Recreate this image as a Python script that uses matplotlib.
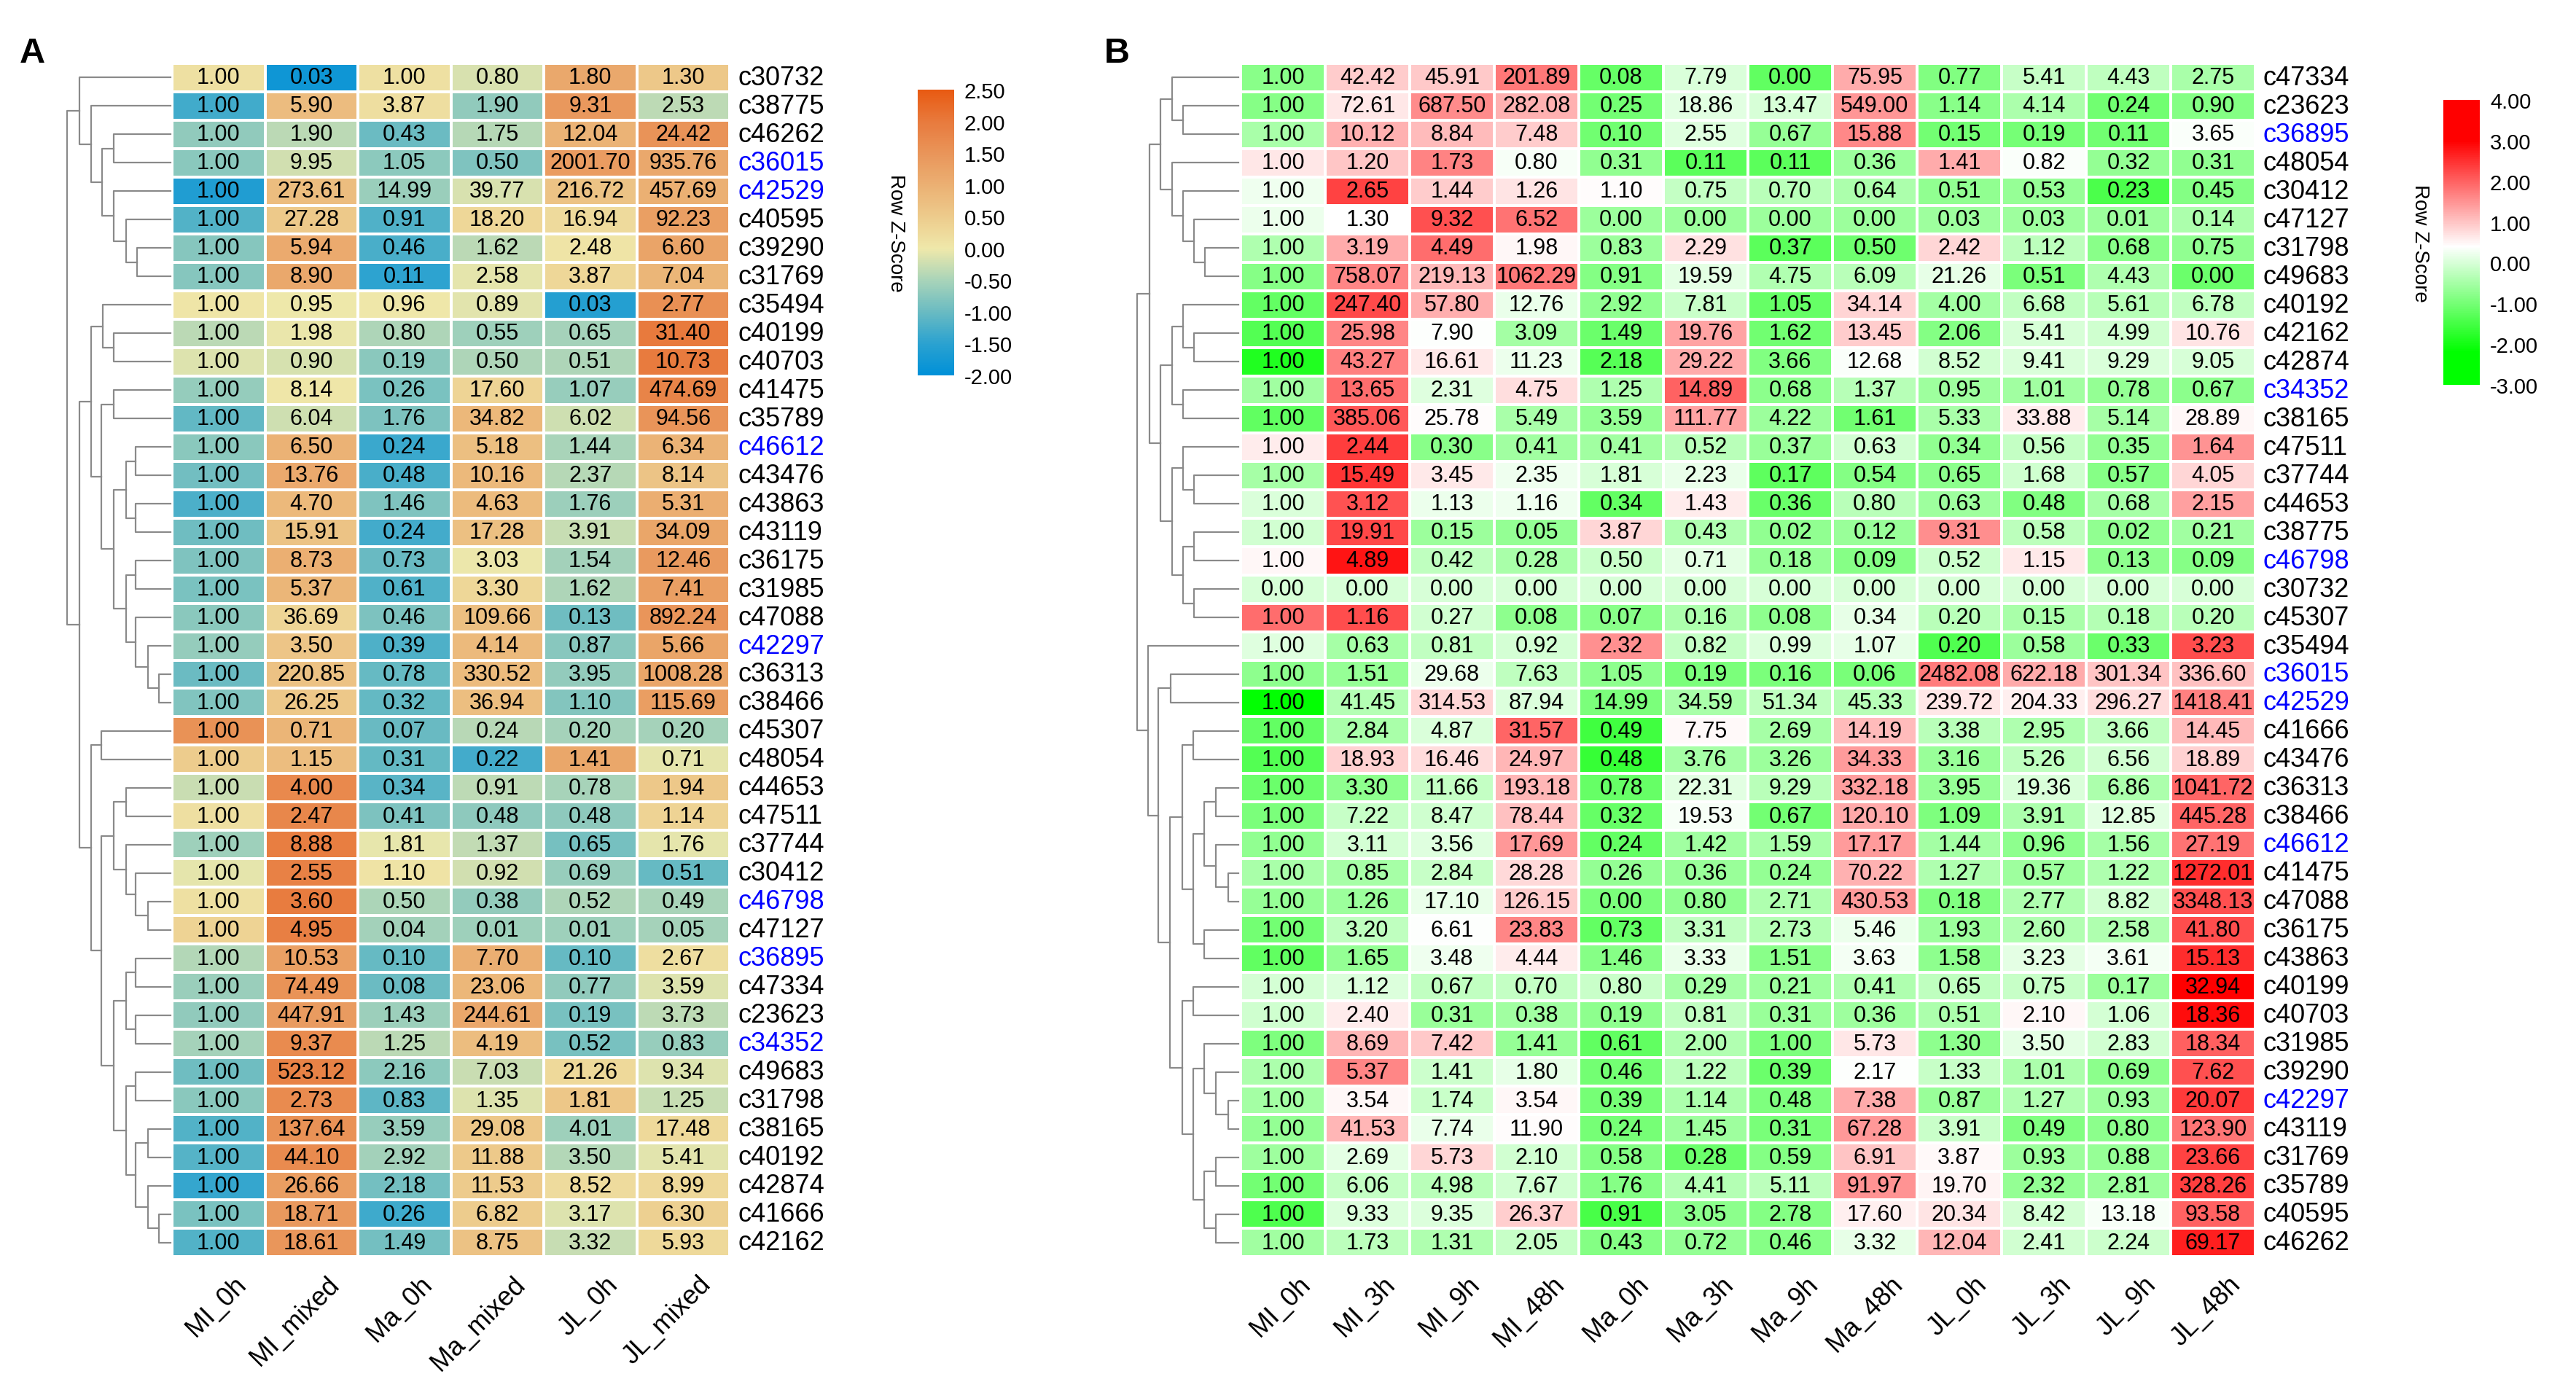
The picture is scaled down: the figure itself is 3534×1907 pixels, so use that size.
import numpy as np
import matplotlib
matplotlib.use("Agg")
import matplotlib.pyplot as plt
from matplotlib.colors import LinearSegmentedColormap, Normalize
from matplotlib.cm import ScalarMappable

plt.rcParams['font.family'] = ['Liberation Sans', 'DejaVu Sans']

W, H = 3534, 1908

# ---------------- panel A ----------------
a_cols = ["MI_0h", "MI_mixed", "Ma_0h", "Ma_mixed", "JL_0h", "JL_mixed"]
a_genes = ["c30732", "c38775", "c46262", "c36015", "c42529", "c40595", "c39290", "c31769",
           "c35494", "c40199", "c40703", "c41475", "c35789", "c46612", "c43476", "c43863",
           "c43119", "c36175", "c31985", "c47088", "c42297", "c36313", "c38466", "c45307",
           "c48054", "c44653", "c47511", "c37744", "c30412", "c46798", "c47127", "c36895",
           "c47334", "c23623", "c34352", "c49683", "c31798", "c38165", "c40192", "c42874",
           "c41666", "c42162"]
a_values = [
    [1.00, 0.03, 1.00, 0.80, 1.80, 1.30],
    [1.00, 5.90, 3.87, 1.90, 9.31, 2.53],
    [1.00, 1.90, 0.43, 1.75, 12.04, 24.42],
    [1.00, 9.95, 1.05, 0.50, 2001.70, 935.76],
    [1.00, 273.61, 14.99, 39.77, 216.72, 457.69],
    [1.00, 27.28, 0.91, 18.20, 16.94, 92.23],
    [1.00, 5.94, 0.46, 1.62, 2.48, 6.60],
    [1.00, 8.90, 0.11, 2.58, 3.87, 7.04],
    [1.00, 0.95, 0.96, 0.89, 0.03, 2.77],
    [1.00, 1.98, 0.80, 0.55, 0.65, 31.40],
    [1.00, 0.90, 0.19, 0.50, 0.51, 10.73],
    [1.00, 8.14, 0.26, 17.60, 1.07, 474.69],
    [1.00, 6.04, 1.76, 34.82, 6.02, 94.56],
    [1.00, 6.50, 0.24, 5.18, 1.44, 6.34],
    [1.00, 13.76, 0.48, 10.16, 2.37, 8.14],
    [1.00, 4.70, 1.46, 4.63, 1.76, 5.31],
    [1.00, 15.91, 0.24, 17.28, 3.91, 34.09],
    [1.00, 8.73, 0.73, 3.03, 1.54, 12.46],
    [1.00, 5.37, 0.61, 3.30, 1.62, 7.41],
    [1.00, 36.69, 0.46, 109.66, 0.13, 892.24],
    [1.00, 3.50, 0.39, 4.14, 0.87, 5.66],
    [1.00, 220.85, 0.78, 330.52, 3.95, 1008.28],
    [1.00, 26.25, 0.32, 36.94, 1.10, 115.69],
    [1.00, 0.71, 0.07, 0.24, 0.20, 0.20],
    [1.00, 1.15, 0.31, 0.22, 1.41, 0.71],
    [1.00, 4.00, 0.34, 0.91, 0.78, 1.94],
    [1.00, 2.47, 0.41, 0.48, 0.48, 1.14],
    [1.00, 8.88, 1.81, 1.37, 0.65, 1.76],
    [1.00, 2.55, 1.10, 0.92, 0.69, 0.51],
    [1.00, 3.60, 0.50, 0.38, 0.52, 0.49],
    [1.00, 4.95, 0.04, 0.01, 0.01, 0.05],
    [1.00, 10.53, 0.10, 7.70, 0.10, 2.67],
    [1.00, 74.49, 0.08, 23.06, 0.77, 3.59],
    [1.00, 447.91, 1.43, 244.61, 0.19, 3.73],
    [1.00, 9.37, 1.25, 4.19, 0.52, 0.83],
    [1.00, 523.12, 2.16, 7.03, 21.26, 9.34],
    [1.00, 2.73, 0.83, 1.35, 1.81, 1.25],
    [1.00, 137.64, 3.59, 29.08, 4.01, 17.48],
    [1.00, 44.10, 2.92, 11.88, 3.50, 5.41],
    [1.00, 26.66, 2.18, 11.53, 8.52, 8.99],
    [1.00, 18.71, 0.26, 6.82, 3.17, 6.30],
    [1.00, 18.61, 1.49, 8.75, 3.32, 5.93],
]
# cluster tree: (merge height, left, right)
a_tree = (142,
          (125, "c30732",
           (109, "c38775",
            (94, (78, "c46262", "c36015"),
             (78, "c42529", (61, "c40595", (46, "c39290", "c31769")))))),
          (125,
           (109,
            (93, "c35494", (78, "c40199", "c40703")),
            (95, (78, "c41475", "c35789"),
             (78, (61, (48, "c46612", "c43476"), (48, "c43863", "c43119")),
              (61, (48, "c36175", "c31985"),
               (48, "c47088", (31, "c42297", (16, "c36313", "c38466"))))))),
           (109, (95, "c45307", "c48054"),
            (95, (78, (61, "c44653", "c47511"),
                  (61, "c37744", (48, "c30412", (31, "c46798", "c47127")))),
             (78, (61, (48, "c36895", "c47334"), (48, "c23623", "c34352")),
              (61, (48, "c49683", "c31798"),
               (48, (31, "c38165", "c40192"),
                (31, "c42874", (16, "c41666", "c42162")))))))))

# ---------------- panel B ----------------
b_cols = ["MI_0h", "MI_3h", "MI_9h", "MI_48h", "Ma_0h", "Ma_3h", "Ma_9h", "Ma_48h",
          "JL_0h", "JL_3h", "JL_9h", "JL_48h"]
b_genes = ["c47334", "c23623", "c36895", "c48054", "c30412", "c47127", "c31798", "c49683",
           "c40192", "c42162", "c42874", "c34352", "c38165", "c47511", "c37744", "c44653",
           "c38775", "c46798", "c30732", "c45307", "c35494", "c36015", "c42529", "c41666",
           "c43476", "c36313", "c38466", "c46612", "c41475", "c47088", "c36175", "c43863",
           "c40199", "c40703", "c31985", "c39290", "c42297", "c43119", "c31769", "c35789",
           "c40595", "c46262"]
b_values = [
    [1.00, 42.42, 45.91, 201.89, 0.08, 7.79, 0.00, 75.95, 0.77, 5.41, 4.43, 2.75],
    [1.00, 72.61, 687.50, 282.08, 0.25, 18.86, 13.47, 549.00, 1.14, 4.14, 0.24, 0.90],
    [1.00, 10.12, 8.84, 7.48, 0.10, 2.55, 0.67, 15.88, 0.15, 0.19, 0.11, 3.65],
    [1.00, 1.20, 1.73, 0.80, 0.31, 0.11, 0.11, 0.36, 1.41, 0.82, 0.32, 0.31],
    [1.00, 2.65, 1.44, 1.26, 1.10, 0.75, 0.70, 0.64, 0.51, 0.53, 0.23, 0.45],
    [1.00, 1.30, 9.32, 6.52, 0.00, 0.00, 0.00, 0.00, 0.03, 0.03, 0.01, 0.14],
    [1.00, 3.19, 4.49, 1.98, 0.83, 2.29, 0.37, 0.50, 2.42, 1.12, 0.68, 0.75],
    [1.00, 758.07, 219.13, 1062.29, 0.91, 19.59, 4.75, 6.09, 21.26, 0.51, 4.43, 0.00],
    [1.00, 247.40, 57.80, 12.76, 2.92, 7.81, 1.05, 34.14, 4.00, 6.68, 5.61, 6.78],
    [1.00, 25.98, 7.90, 3.09, 1.49, 19.76, 1.62, 13.45, 2.06, 5.41, 4.99, 10.76],
    [1.00, 43.27, 16.61, 11.23, 2.18, 29.22, 3.66, 12.68, 8.52, 9.41, 9.29, 9.05],
    [1.00, 13.65, 2.31, 4.75, 1.25, 14.89, 0.68, 1.37, 0.95, 1.01, 0.78, 0.67],
    [1.00, 385.06, 25.78, 5.49, 3.59, 111.77, 4.22, 1.61, 5.33, 33.88, 5.14, 28.89],
    [1.00, 2.44, 0.30, 0.41, 0.41, 0.52, 0.37, 0.63, 0.34, 0.56, 0.35, 1.64],
    [1.00, 15.49, 3.45, 2.35, 1.81, 2.23, 0.17, 0.54, 0.65, 1.68, 0.57, 4.05],
    [1.00, 3.12, 1.13, 1.16, 0.34, 1.43, 0.36, 0.80, 0.63, 0.48, 0.68, 2.15],
    [1.00, 19.91, 0.15, 0.05, 3.87, 0.43, 0.02, 0.12, 9.31, 0.58, 0.02, 0.21],
    [1.00, 4.89, 0.42, 0.28, 0.50, 0.71, 0.18, 0.09, 0.52, 1.15, 0.13, 0.09],
    [0.00, 0.00, 0.00, 0.00, 0.00, 0.00, 0.00, 0.00, 0.00, 0.00, 0.00, 0.00],
    [1.00, 1.16, 0.27, 0.08, 0.07, 0.16, 0.08, 0.34, 0.20, 0.15, 0.18, 0.20],
    [1.00, 0.63, 0.81, 0.92, 2.32, 0.82, 0.99, 1.07, 0.20, 0.58, 0.33, 3.23],
    [1.00, 1.51, 29.68, 7.63, 1.05, 0.19, 0.16, 0.06, 2482.08, 622.18, 301.34, 336.60],
    [1.00, 41.45, 314.53, 87.94, 14.99, 34.59, 51.34, 45.33, 239.72, 204.33, 296.27, 1418.41],
    [1.00, 2.84, 4.87, 31.57, 0.49, 7.75, 2.69, 14.19, 3.38, 2.95, 3.66, 14.45],
    [1.00, 18.93, 16.46, 24.97, 0.48, 3.76, 3.26, 34.33, 3.16, 5.26, 6.56, 18.89],
    [1.00, 3.30, 11.66, 193.18, 0.78, 22.31, 9.29, 332.18, 3.95, 19.36, 6.86, 1041.72],
    [1.00, 7.22, 8.47, 78.44, 0.32, 19.53, 0.67, 120.10, 1.09, 3.91, 12.85, 445.28],
    [1.00, 3.11, 3.56, 17.69, 0.24, 1.42, 1.59, 17.17, 1.44, 0.96, 1.56, 27.19],
    [1.00, 0.85, 2.84, 28.28, 0.26, 0.36, 0.24, 70.22, 1.27, 0.57, 1.22, 1272.01],
    [1.00, 1.26, 17.10, 126.15, 0.00, 0.80, 2.71, 430.53, 0.18, 2.77, 8.82, 3348.13],
    [1.00, 3.20, 6.61, 23.83, 0.73, 3.31, 2.73, 5.46, 1.93, 2.60, 2.58, 41.80],
    [1.00, 1.65, 3.48, 4.44, 1.46, 3.33, 1.51, 3.63, 1.58, 3.23, 3.61, 15.13],
    [1.00, 1.12, 0.67, 0.70, 0.80, 0.29, 0.21, 0.41, 0.65, 0.75, 0.17, 32.94],
    [1.00, 2.40, 0.31, 0.38, 0.19, 0.81, 0.31, 0.36, 0.51, 2.10, 1.06, 18.36],
    [1.00, 8.69, 7.42, 1.41, 0.61, 2.00, 1.00, 5.73, 1.30, 3.50, 2.83, 18.34],
    [1.00, 5.37, 1.41, 1.80, 0.46, 1.22, 0.39, 2.17, 1.33, 1.01, 0.69, 7.62],
    [1.00, 3.54, 1.74, 3.54, 0.39, 1.14, 0.48, 7.38, 0.87, 1.27, 0.93, 20.07],
    [1.00, 41.53, 7.74, 11.90, 0.24, 1.45, 0.31, 67.28, 3.91, 0.49, 0.80, 123.90],
    [1.00, 2.69, 5.73, 2.10, 0.58, 0.28, 0.59, 6.91, 3.87, 0.93, 0.88, 23.66],
    [1.00, 6.06, 4.98, 7.67, 1.76, 4.41, 5.11, 91.97, 19.70, 2.32, 2.81, 328.26],
    [1.00, 9.33, 9.35, 26.37, 0.91, 3.05, 2.78, 17.60, 20.34, 8.42, 13.18, 93.58],
    [1.00, 1.73, 1.31, 2.05, 0.43, 0.72, 0.46, 3.32, 12.04, 2.41, 2.24, 69.17],
]
b_tree = (139,
          (122,
           (107, (91, "c47334", (76, "c23623", "c36895")),
            (91, "c48054", (76, "c30412", (61, "c47127", (46, "c31798", "c49683"))))),
           (107, (91, (76, "c40192", (61, "c42162", "c42874")), (76, "c34352", "c38165")),
            (91, (76, "c47511", (61, "c37744", "c44653")),
             (76, (61, "c38775", "c46798"), (61, "c30732", "c45307"))))),
          (124, "c35494",
           (110, (93, "c36015", "c42529"),
            (94, (77, (62, "c41666", "c43476"),
                  (62, (47, (31, "c36313", "c38466"), (31, "c46612", (14, "c41475", "c47088"))),
                   (47, "c36175", "c43863"))),
             (77, (62, "c40199", "c40703"),
              (62, (47, "c31985", (31, "c39290", (14, "c42297", "c43119"))),
               (47, (31, "c31769", "c35789"), (31, "c40595", "c46262"))))))))

highlight = ["c36015", "c42529", "c46612", "c42297", "c46798", "c36895", "c34352"]

a_cmap = LinearSegmentedColormap.from_list("a", [
    (0.0, "#0090d8"), (0.111, "#2ba2d0"), (0.222, "#6abbc2"), (0.333, "#a9d4b9"),
    (0.444, "#efe8aa"), (0.556, "#edcb8c"), (0.667, "#ebb073"), (0.778, "#e9955a"),
    (0.889, "#e87a3d"), (1.0, "#e85a12")])
a_norm = Normalize(-2, 2.5)
b_cmap = LinearSegmentedColormap.from_list("b", [
    (0.0, "#00ff00"), (0.114, "#00ff00"), (0.486, "#ffffff"), (0.857, "#ff0000"), (1.0, "#ff0000")])
b_norm = Normalize(-3, 4)

fig = plt.figure(figsize=(W / 100, H / 100), dpi=100)


def px_axes(x0, y0, x1, y1):
    return fig.add_axes([x0 / W, 1 - y1 / H, (x1 - x0) / W, (y1 - y0) / H])


def row_zscore(values):
    lg = np.log1p(np.array(values, dtype=float))
    sd = lg.std(axis=1, ddof=1, keepdims=True)
    z = (lg - lg.mean(axis=1, keepdims=True)) / np.where(sd > 0, sd, 1)
    return np.where(sd > 0, z, 0.0)


def draw_heatmap(ax, values, genes, cols, cmap, norm):
    vals = np.array(values, dtype=float)
    n, m = vals.shape
    ax.pcolormesh(np.arange(m + 1), np.arange(n + 1), row_zscore(values), cmap=cmap, norm=norm,
                  edgecolors="white", linewidth=1.5)
    ax.set_xlim(0, m)
    ax.set_ylim(n, 0)
    ax.axis("off")
    for i in range(n):
        for j in range(m):
            ax.text(j + 0.5, i + 0.5, f"{vals[i, j]:.2f}", ha="center", va="center", fontsize=22)
        ax.annotate(genes[i], xy=(m, i + 0.5), xytext=(11, 0), textcoords="offset pixels",
                    ha="left", va="center", fontsize=26,
                    color="#0000ff" if genes[i] in highlight else "black")
    for j, c in enumerate(cols):
        ax.annotate(c, xy=(j + 0.5, n), xytext=(20, -20), textcoords="offset pixels",
                    rotation=45, rotation_mode="anchor", ha="right", va="top", fontsize=26)


def draw_tree(ax, node, pos):
    if isinstance(node, str):
        return pos[node], 0.0
    h, left, right = node
    y1, h1 = draw_tree(ax, left, pos)
    y2, h2 = draw_tree(ax, right, pos)
    ax.plot([h1, h, h, h2], [y1, y1, y2, y2], color="#8a8a8a", lw=1.6, clip_on=False)
    return (y1 + y2) / 2, h


def draw_dendro(x_leaf, tree, genes):
    root_h = tree[0]
    ax = px_axes(x_leaf - root_h, 88, x_leaf, 1725)
    pos = {g: i + 0.5 for i, g in enumerate(genes)}
    draw_tree(ax, tree, pos)
    ax.set_xlim(root_h, 0)
    ax.set_ylim(len(genes), 0)
    ax.axis("off")


def draw_colorbar(x0, y0, x1, y1, cmap, norm, ticks, label_x):
    cax = px_axes(x0, y0, x1, y1)
    cb = fig.colorbar(ScalarMappable(norm=norm, cmap=cmap), cax=cax, ticks=ticks)
    cb.outline.set_visible(False)
    cb.ax.tick_params(length=0, labelsize=21, pad=10)
    cb.ax.set_yticklabels([f"{t:.2f}" for t in ticks])
    fig.text(label_x / W, 1 - ((y0 + y1) / 2) / H, "Row Z-Score", rotation=270,
             ha="center", va="center", fontsize=20)


# panel A
ax_a = px_axes(236, 88, 1001, 1725)
draw_heatmap(ax_a, a_values, a_genes, a_cols, a_cmap, a_norm)
draw_dendro(234, a_tree, a_genes)
draw_colorbar(1259, 124, 1309, 516, a_cmap, a_norm, np.arange(-2, 2.51, 0.5), 1229)

# panel B
ax_b = px_axes(1702, 88, 3094, 1725)
draw_heatmap(ax_b, b_values, b_genes, b_cols, b_cmap, b_norm)
draw_dendro(1699, b_tree, b_genes)
draw_colorbar(3352, 138, 3402, 529, b_cmap, b_norm, np.arange(-3, 4.01, 1.0), 3320)

fig.text(27 / W, 1 - 86 / H, "A", fontsize=35, fontweight="bold", va="baseline")
fig.text(1515 / W, 1 - 86 / H, "B", fontsize=35, fontweight="bold", va="baseline")

fig.savefig("out.png", dpi=100, facecolor="white")
